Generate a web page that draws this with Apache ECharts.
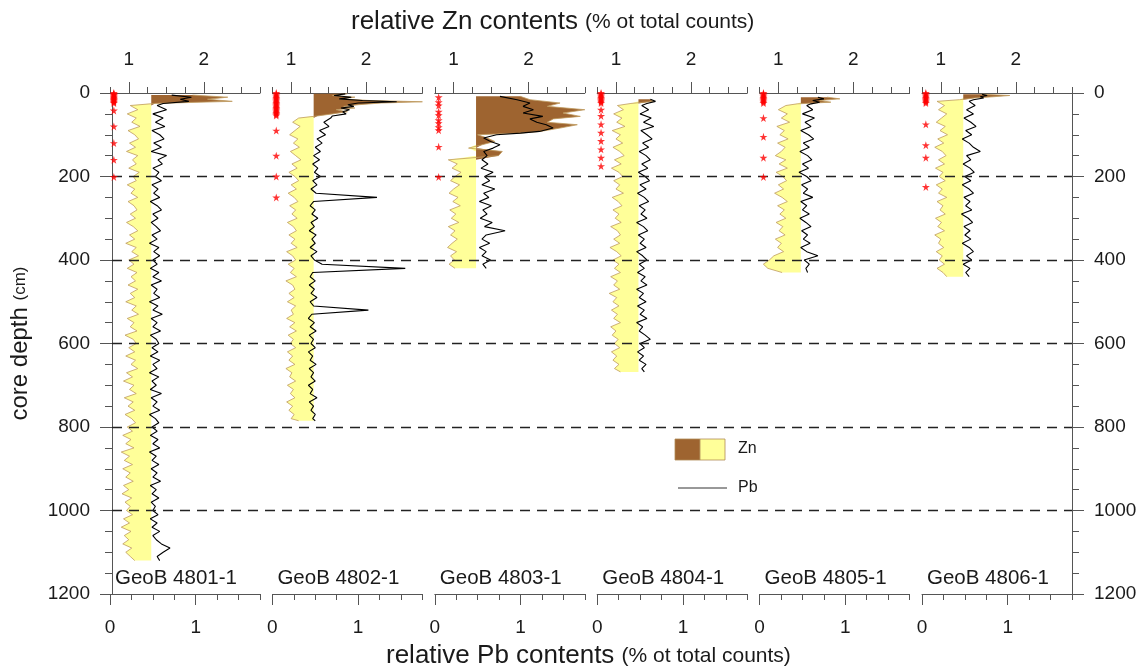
<!DOCTYPE html>
<html>
<head>
    <meta charset="utf-8">
    <title>GeoB cores - relative Zn / Pb contents</title>
    <script src="https://cdn.jsdelivr.net/npm/echarts@6/dist/echarts.min.js"></script>
    <style>html, body { margin: 0; padding: 0; background: #fff; }</style>
</head>
<body>
    <div id="main" style="width: 1146px; height: 667px;"></div>
    <script type="text/javascript">
        var FONT = 'Liberation Sans, Arial, sans-serif';

        // core names (one panel each)
        var coreNames = ['GeoB 4801-1', 'GeoB 4802-1', 'GeoB 4803-1', 'GeoB 4804-1', 'GeoB 4805-1', 'GeoB 4806-1'];

        // tick labels
        var depthTicks = [0, 200, 400, 600, 800, 1000, 1200];
        var znLabels = [1, 2];
        var pbLabels = [0, 1];
        var dashedDepths = [200, 400, 600, 800, 1000];

        // Zn level that splits brown (above) from yellow (below)
        var znBase = 1.3;

        // GeoB 4801-1
        var depth1 = [5, 10, 15, 20, 25, 30, 40, 50, 60, 70, 80, 90, 100, 110, 120, 130, 140, 150, 160, 170, 180, 190, 200,
            210, 220, 230, 240, 250, 260, 270, 280, 290, 300, 310, 320, 330, 340, 350, 360, 370, 380, 390, 400,
            410, 420, 430, 440, 450, 460, 470, 480, 490, 500, 510, 520, 530, 540, 550, 560, 570, 580, 590, 600,
            610, 620, 630, 640, 650, 660, 670, 680, 690, 700, 710, 720, 730, 740, 750, 760, 770, 780, 790, 800,
            810, 820, 830, 840, 850, 860, 870, 880, 890, 900, 910, 920, 930, 940, 950, 960, 970, 980, 990, 1000,
            1010, 1020, 1030, 1040, 1050, 1060, 1070, 1080, 1090, 1100, 1110, 1120];
        var zn1 = [1.85, 2.32, 2.05, 2.38, 1.35, 1.02, 1.12, 0.98, 1.10, 1.04, 1.15, 0.99, 1.08, 1.13, 1.01, 1.09, 0.97, 1.12, 1.05, 1.10, 1.00, 1.14, 1.06,
            1.10, 0.98, 1.08, 1.03, 1.12, 0.99, 1.07, 1.11, 1.02, 1.09, 0.97, 1.06, 1.12, 1.01, 1.08, 0.96, 1.10, 1.04, 1.13, 1.00,
            1.07, 0.98, 1.11, 1.03, 1.09, 0.99, 1.12, 1.02, 1.08, 0.96, 1.10, 1.04, 1.13, 0.98, 1.07, 1.02, 1.11, 0.95, 1.06, 1.10,
            1.00, 1.08, 0.96, 1.09, 1.03, 1.12, 0.97, 1.05, 0.93, 1.07, 1.01, 1.10, 0.94, 1.06, 0.99, 1.08, 0.95, 1.04, 1.09, 0.98,
            1.05, 0.92, 1.03, 0.96, 1.07, 0.90, 1.01, 0.94, 1.05, 0.92, 1.02, 0.96, 1.06, 0.93, 1.00, 0.91, 1.04, 0.95, 1.02, 0.97,
            1.05, 0.93, 1.01, 0.90, 1.03, 0.94, 1.00, 0.92, 1.04, 0.96, 1.02, 1.08];
        var pb1 = [0.72, 0.95, 0.82, 0.92, 0.62, 0.55, 0.66, 0.50, 0.62, 0.53, 0.64, 0.49, 0.58, 0.63, 0.51, 0.60, 0.48, 0.66, 0.56, 0.61, 0.50, 0.57, 0.53,
            0.60, 0.49, 0.56, 0.51, 0.58, 0.47, 0.55, 0.60, 0.50, 0.56, 0.48, 0.54, 0.59, 0.49, 0.55, 0.46, 0.57, 0.51, 0.58, 0.50,
            0.55, 0.47, 0.57, 0.50, 0.60, 0.48, 0.55, 0.51, 0.58, 0.46, 0.56, 0.50, 0.61, 0.48, 0.55, 0.50, 0.59, 0.47, 0.54, 0.57,
            0.49, 0.56, 0.47, 0.58, 0.50, 0.55, 0.46, 0.57, 0.49, 0.54, 0.47, 0.60, 0.48, 0.55, 0.50, 0.58, 0.46, 0.53, 0.57, 0.49,
            0.55, 0.47, 0.56, 0.50, 0.58, 0.46, 0.54, 0.49, 0.57, 0.48, 0.55, 0.50, 0.59, 0.47, 0.54, 0.49, 0.57, 0.48, 0.53, 0.50,
            0.56, 0.47, 0.55, 0.49, 0.58, 0.50, 0.54, 0.60, 0.70, 0.62, 0.55, 0.58];
        var star1 = [0, 2, 4, 6, 8, 10, 12, 14, 16, 18, 20, 22, 24, 42, 80, 120, 160, 201];

        // GeoB 4802-1
        var depth2 = [2, 6, 10, 14, 18, 21, 24, 28, 32, 36, 40, 45, 50, 55,
            60, 70, 80, 90, 100, 110, 120, 130, 140, 150, 160, 170, 180, 190, 200,
            210, 220, 230, 240, 250, 260, 270, 280, 290, 300, 310, 320, 330, 340, 350, 360, 370, 380, 390, 400,
            410, 420, 430, 440, 450, 460, 470, 480, 490, 500, 510, 520, 530, 540, 550, 560, 570, 580, 590, 600,
            610, 620, 630, 640, 650, 660, 670, 680, 690, 700, 710, 720, 730, 740, 750, 760, 770, 780, 785];
        var zn2 = [1.75, 1.55, 1.85, 1.65, 2.05, 2.75, 2.20, 1.90, 1.70, 1.85, 1.60, 1.75, 1.55, 1.35,
            1.10, 1.02, 1.12, 1.05, 0.98, 1.09, 1.03, 1.11, 0.99, 1.06, 1.13, 1.01, 1.08, 0.97, 1.05,
            1.10, 1.00, 1.07, 0.96, 1.04, 1.09, 0.98, 1.06, 1.01, 1.08, 0.95, 1.03, 1.07, 0.97, 1.05, 1.00, 1.08, 0.94, 1.02, 1.06,
            0.96, 1.04, 0.99, 1.07, 0.93, 1.02, 1.05, 0.97, 1.04, 0.95, 1.06, 1.00, 1.03, 0.94, 1.05, 0.98, 1.07, 0.96, 1.03, 0.99,
            1.06, 0.95, 1.02, 0.97, 1.05, 0.93, 1.01, 0.98, 1.06, 0.95, 1.03, 0.99, 1.05, 0.94, 1.02, 0.97, 1.04, 1.00, 1.10];
        var pb2 = [0.85, 0.72, 0.92, 0.78, 1.05, 1.45, 1.00, 0.88, 0.95, 0.80, 0.90, 0.82, 0.86, 0.70,
            0.68, 0.60, 0.66, 0.55, 0.62, 0.52, 0.58, 0.50, 0.56, 0.48, 0.55, 0.47, 0.53, 0.49, 0.56,
            0.47, 0.52, 0.45, 0.51, 1.22, 0.48, 0.44, 0.50, 0.46, 0.53, 0.45, 0.49, 0.43, 0.51, 0.46, 0.50, 0.44, 0.52, 0.45, 0.49,
            0.58, 1.55, 0.47, 0.44, 0.50, 0.43, 0.49, 0.45, 0.52, 0.44, 0.48, 1.12, 0.46, 0.42, 0.49, 0.44, 0.51, 0.43, 0.48, 0.45,
            0.50, 0.42, 0.47, 0.44, 0.51, 0.43, 0.48, 0.45, 0.50, 0.42, 0.47, 0.44, 0.52, 0.43, 0.48, 0.45, 0.50, 0.47, 0.50];
        var star2 = [0, 3, 6, 9, 12, 15, 18, 21, 24, 27, 30, 33, 36, 39, 42, 45, 48, 51, 54, 90, 150, 200, 250];

        // GeoB 4803-1
        var depth3 = [8, 16, 24, 32, 40, 48, 56, 62, 70, 76, 84, 92, 96, 100, 108, 116, 124, 132, 140, 150, 160,
            170, 180, 190, 200, 210, 220, 230, 240, 250, 260, 270, 280, 290, 300, 310, 320, 330, 340, 350, 360,
            370, 380, 390, 400, 410, 420];
        var zn3 = [1.89, 2.02, 2.42, 2.25, 2.75, 2.46, 2.69, 2.33, 2.25, 2.65, 2.42, 2.16, 1.89, 1.32, 1.45, 1.55, 1.38, 1.20, 1.65, 1.60, 0.93,
            1.05, 0.98, 1.10, 1.02, 0.96, 1.08, 1.00, 0.94, 1.06, 0.99, 1.09, 0.95, 1.03, 0.97, 1.07, 0.93, 1.02, 0.96, 1.05, 0.98,
            0.92, 1.04, 0.96, 1.01, 0.94, 1.02];
        var pb3 = [0.76, 0.96, 1.11, 1.03, 1.15, 1.03, 1.26, 1.11, 1.19, 1.30, 1.38, 1.22, 1.00, 0.72, 0.57, 0.65, 0.76, 0.68, 0.57, 0.61, 0.55,
            0.62, 0.54, 0.68, 0.58, 0.64, 0.55, 0.70, 0.57, 0.63, 0.52, 0.66, 0.56, 0.61, 0.53, 0.67, 0.58, 0.82, 0.60, 0.55, 0.64,
            0.52, 0.60, 0.55, 0.65, 0.56, 0.60];
        var star3 = [10, 22, 30, 45, 53, 65, 72, 82, 89, 129, 201];

        // GeoB 4804-1
        var depth4 = [15, 20, 25, 30, 40, 50, 60, 70, 80, 90, 100, 110, 120, 130, 140, 150, 160, 170, 180, 190, 200,
            210, 220, 230, 240, 250, 260, 270, 280, 290, 300, 310, 320, 330, 340, 350, 360, 370, 380, 390, 400,
            410, 420, 430, 440, 450, 460, 470, 480, 490, 500, 510, 520, 530, 540, 550, 560, 570, 580, 590, 600,
            610, 620, 630, 640, 650, 660, 668];
        var zn4 = [1.45, 1.50, 1.20, 1.02, 1.10, 0.97, 1.08, 1.01, 1.12, 0.95, 1.06, 1.00, 1.09, 0.96, 1.05, 1.11, 0.98, 1.07, 0.94, 1.04, 1.09,
            0.97, 1.05, 1.00, 1.10, 0.95, 1.03, 1.08, 0.96, 1.04, 0.99, 1.07, 0.93, 1.02, 1.06, 0.97, 1.05, 0.92, 1.01, 1.07, 0.96,
            1.04, 0.98, 1.06, 0.93, 1.02, 0.97, 1.05, 0.91, 1.01, 0.96, 1.04, 0.94, 1.02, 0.97, 1.06, 0.93, 1.00, 0.95, 1.03, 0.98,
            1.05, 0.94, 1.01, 0.96, 1.04, 0.98, 1.06];
        var pb4 = [0.62, 0.68, 0.58, 0.52, 0.60, 0.50, 0.63, 0.54, 0.66, 0.51, 0.58, 0.64, 0.53, 0.60, 0.49, 0.57, 0.62, 0.52, 0.59, 0.48, 0.56,
            0.61, 0.50, 0.57, 0.47, 0.55, 0.60, 0.49, 0.56, 0.51, 0.58, 0.46, 0.54, 0.59, 0.48, 0.55, 0.50, 0.57, 0.46, 0.53, 0.58,
            0.49, 0.55, 0.47, 0.56, 0.51, 0.58, 0.46, 0.54, 0.49, 0.57, 0.47, 0.55, 0.50, 0.58, 0.46, 0.53, 0.49, 0.56, 0.62, 0.50,
            0.55, 0.47, 0.54, 0.49, 0.57, 0.52, 0.55];
        var star4 = [0, 3, 6, 9, 12, 15, 18, 21, 24, 40, 55, 75, 95, 115, 135, 155, 175];

        // GeoB 4805-1
        var depth5 = [10, 14, 18, 22, 26, 30, 40, 50, 60, 70, 80, 90, 100, 110, 120, 130, 140, 150, 160, 170, 180, 190, 200,
            210, 220, 230, 240, 250, 260, 270, 280, 290, 300, 310, 320, 330, 340, 350, 360, 370, 380, 390, 400,
            410, 420, 430];
        var zn5 = [1.65, 1.82, 1.55, 1.70, 1.25, 1.10, 1.00, 1.12, 1.04, 1.15, 0.98, 1.08, 1.02, 1.13, 0.99, 1.09, 1.04, 0.96, 1.10, 1.01, 1.12, 0.97, 1.06,
            1.11, 1.00, 1.07, 0.95, 1.05, 1.12, 0.99, 1.08, 1.02, 1.10, 0.97, 1.06, 1.01, 1.09, 0.96, 1.04, 0.99, 1.07, 0.94, 0.88,
            0.80, 0.86, 1.05];
        var pb5 = [0.68, 0.75, 0.62, 0.70, 0.60, 0.55, 0.62, 0.50, 0.64, 0.53, 0.60, 0.48, 0.57, 0.63, 0.51, 0.58, 0.47, 0.56, 0.61, 0.50, 0.57, 0.46, 0.55,
            0.60, 0.49, 0.56, 0.51, 0.62, 0.48, 0.55, 0.50, 0.58, 0.47, 0.54, 0.60, 0.49, 0.56, 0.51, 0.59, 0.48, 0.55, 0.68, 0.52,
            0.58, 0.54, 0.56];
        var star5 = [0, 3, 6, 9, 12, 15, 18, 21, 24, 60, 105, 155, 201];

        // GeoB 4806-1
        var depth6 = [3, 6, 9, 12, 16, 20, 30, 40, 50, 60, 70, 80, 90, 100, 110, 120, 130, 140, 150, 160, 170, 180, 190, 200,
            210, 220, 230, 240, 250, 260, 270, 280, 290, 300, 310, 320, 330, 340, 350, 360, 370, 380, 390, 400,
            410, 420, 430, 440];
        var zn6 = [1.55, 1.92, 1.70, 1.45, 1.25, 0.95, 1.05, 0.97, 1.08, 1.01, 0.94, 1.06, 0.99, 1.09, 0.96, 1.04, 0.92, 1.02, 1.07, 0.97, 1.05, 0.93, 1.03, 0.98,
            1.06, 0.94, 1.02, 0.97, 1.08, 0.95, 1.03, 0.99, 1.06, 0.93, 1.01, 0.96, 1.05, 0.92, 1.00, 0.97, 1.04, 0.94, 1.02, 0.98,
            1.05, 0.95, 1.03, 1.08];
        var pb6 = [0.70, 0.76, 0.68, 0.72, 0.60, 0.55, 0.62, 0.52, 0.60, 0.49, 0.57, 0.63, 0.51, 0.58, 0.47, 0.55, 0.60, 0.68, 0.52, 0.57, 0.48, 0.56, 0.61, 0.50,
            0.57, 0.47, 0.55, 0.60, 0.49, 0.56, 0.51, 0.58, 0.46, 0.54, 0.59, 0.49, 0.56, 0.50, 0.57, 0.47, 0.55, 0.60, 0.52, 0.58,
            0.48, 0.56, 0.51, 0.55];
        var star6 = [0, 3, 6, 9, 12, 15, 18, 21, 24, 75, 125, 155, 225];

        var cores = [
            {depth: depth1, zn: zn1, pb: pb1, stars: star1},
            {depth: depth2, zn: zn2, pb: pb2, stars: star2},
            {depth: depth3, zn: zn3, pb: pb3, stars: star3},
            {depth: depth4, zn: zn4, pb: pb4, stars: star4},
            {depth: depth5, zn: zn5, pb: pb5, stars: star5},
            {depth: depth6, zn: zn6, pb: pb6, stars: star6}
        ];

        // layout
        var panelLeft = [110, 272.4, 434.8, 597.2, 759.6, 922];
        var panelWidth = 150, gridTop = 93, gridBottom = 73;
        var axisColor = '#555', textColor = '#1a1a1a';
        var brown = '#9e6430', yellow = '#ffff99', znEdge = '#bf9a5e';
        var starPath = 'path://M50,0 L61,35 L98,35 L68,57 L79,91 L50,70 L21,91 L32,57 L2,35 L39,35 Z';

        var myChart = echarts.init(document.getElementById('main'));

        function onlyLabels(list) {
            return function (v) { return list.indexOf(Math.round(v * 100) / 100) >= 0 ? String(v) : ''; };
        }

        // Zn fill: brown right of znBase, yellow left of it
        function znRenderer(c) {
            return function (params, api) {
                var n = c.depth.length;
                var top = api.coord([znBase, c.depth[0]]);
                var bottom = api.coord([znBase, c.depth[n - 1]]);
                var hi = [top], lo = [top], edge = [];
                for (var k = 0; k < n; k++) {
                    hi.push(api.coord([Math.max(c.zn[k], znBase), c.depth[k]]));
                    lo.push(api.coord([Math.min(c.zn[k], znBase), c.depth[k]]));
                    edge.push(api.coord([c.zn[k], c.depth[k]]));
                }
                hi.push(bottom);
                lo.push(bottom);
                return {
                    type: 'group',
                    children: [
                        {type: 'polygon', shape: {points: lo}, style: {fill: yellow}},
                        {type: 'polygon', shape: {points: hi}, style: {fill: brown}},
                        {type: 'polyline', shape: {points: edge}, style: {stroke: znEdge, lineWidth: 0.8, fill: null}}
                    ]
                };
            };
        }

        var grids = [], xAxes = [], yAxes = [], series = [], graphics = [];

        cores.forEach(function (c, i) {
            grids.push({left: panelLeft[i], width: panelWidth, top: gridTop, bottom: gridBottom});
            var xi = xAxes.length;
            // Zn axis (top)
            xAxes.push({
                gridIndex: i, type: 'value', position: 'top', min: 0.75, max: 2.75, interval: 0.25,
                axisLine: {show: true, lineStyle: {color: axisColor}},
                axisTick: {show: true, length: 6, lineStyle: {color: axisColor}},
                axisLabel: {fontSize: 19, color: textColor, fontFamily: FONT, margin: 24, formatter: onlyLabels(znLabels)},
                splitLine: {show: false}
            });
            // longer ticks at labelled Zn values
            xAxes.push({
                gridIndex: i, type: 'value', position: 'top', min: 0.75, max: 2.75,
                axisLine: {show: false},
                axisTick: {show: true, length: 11, customValues: znLabels, lineStyle: {color: axisColor}},
                axisLabel: {show: false},
                splitLine: {show: false}
            });
            // Pb axis (bottom)
            xAxes.push({
                gridIndex: i, type: 'value', position: 'bottom', min: 0, max: 1.75, interval: 0.25,
                axisLine: {show: true, lineStyle: {color: axisColor}},
                axisTick: {show: true, length: 6, lineStyle: {color: axisColor}},
                axisLabel: {fontSize: 19, color: textColor, fontFamily: FONT, margin: 24, formatter: onlyLabels(pbLabels)},
                splitLine: {show: false}
            });
            xAxes.push({
                gridIndex: i, type: 'value', position: 'bottom', min: 0, max: 1.75,
                axisLine: {show: false},
                axisTick: {show: true, length: 11, customValues: pbLabels, lineStyle: {color: axisColor}},
                axisLabel: {show: false},
                splitLine: {show: false}
            });
            yAxes.push({gridIndex: i, type: 'value', min: 0, max: 1200, inverse: true, show: false});

            series.push({
                type: 'custom', xAxisIndex: xi, yAxisIndex: i, z: 3, silent: true,
                data: [0], renderItem: znRenderer(c)
            });
            series.push({
                type: 'line', xAxisIndex: xi + 2, yAxisIndex: i, z: 4, silent: true,
                showSymbol: false, symbol: 'none',
                lineStyle: {color: '#000', width: 1.1},
                data: c.depth.map(function (d, k) { return [c.pb[k], d]; })
            });
            series.push({
                type: 'scatter', xAxisIndex: xi + 2, yAxisIndex: i, z: 5, silent: true,
                symbol: starPath, symbolSize: 8,
                itemStyle: {color: '#ff0000'},
                data: c.stars.map(function (d) { return [0.045, d]; })
            });

            graphics.push({
                type: 'text', left: panelLeft[i] + 5, top: 568,
                style: {text: coreNames[i], fontSize: 20.5, fill: textColor, fontFamily: FONT}
            });
        });

        // full-width grid: depth axes on both sides + dashed depth lines
        var bg = grids.length;
        grids.push({left: 110, right: 74, top: gridTop, bottom: gridBottom});
        xAxes.push({gridIndex: bg, type: 'value', min: 0, max: 1, show: false});
        var depthAxis = function (pos) {
            return {
                gridIndex: bg, type: 'value', position: pos,
                min: depthTicks[0], max: depthTicks[depthTicks.length - 1], interval: depthTicks[1] - depthTicks[0],
                inverse: true,
                axisLine: {show: true, lineStyle: {color: axisColor}},
                axisTick: {show: true, length: 12, lineStyle: {color: axisColor}},
                minorTick: {show: true, splitNumber: 4, length: 7, lineStyle: {color: axisColor}},
                axisLabel: {fontSize: 19, color: textColor, fontFamily: FONT, margin: 22,
                    formatter: function (v) { return String(v); }},
                splitLine: {show: false}
            };
        };
        var leftAxis = depthAxis('left');
        leftAxis.name = '{a|core depth }{b|(cm)}';
        leftAxis.nameLocation = 'middle';
        leftAxis.nameGap = 80;
        leftAxis.nameRotate = 90;
        leftAxis.nameTextStyle = {
            rich: {
                a: {fontSize: 24, color: textColor, fontFamily: FONT},
                b: {fontSize: 17, color: textColor, fontFamily: FONT}
            }
        };
        yAxes.push(leftAxis);
        yAxes.push(depthAxis('right'));

        series.push({
            type: 'line', xAxisIndex: xAxes.length - 1, yAxisIndex: yAxes.length - 2, z: 1, silent: true,
            showSymbol: false, lineStyle: {opacity: 0},
            data: [[0, 0]],
            markLine: {
                silent: true, symbol: 'none', label: {show: false},
                lineStyle: {color: '#222', width: 1.3, type: [10, 7]},
                data: dashedDepths.map(function (d) { return {yAxis: d}; })
            }
        });

        // legend drawn by hand, as in the figure
        graphics.push(
            {type: 'rect', shape: {x: 675, y: 439, width: 25, height: 21}, style: {fill: brown, stroke: '#b08a55', lineWidth: 0.8}},
            {type: 'rect', shape: {x: 700, y: 439, width: 25, height: 21}, style: {fill: yellow, stroke: '#b08a55', lineWidth: 0.8}},
            {type: 'text', left: 738, top: 441, style: {text: 'Zn', fontSize: 16, fill: textColor, fontFamily: FONT}},
            {type: 'line', shape: {x1: 678, y1: 488, x2: 727, y2: 488}, style: {stroke: '#333', lineWidth: 1}},
            {type: 'text', left: 738, top: 480, style: {text: 'Pb', fontSize: 16, fill: textColor, fontFamily: FONT}}
        );

        var titleRich = {
            a: {fontSize: 26, fontWeight: 'normal', color: textColor, fontFamily: FONT},
            b: {fontSize: 21, fontWeight: 'normal', color: textColor, fontFamily: FONT}
        };

        var option = {
            animation: false,
            title: [
                {text: '{a|relative Zn contents }{b|(% ot total counts)}', left: 346, top: 4,
                    textStyle: {fontWeight: 'normal', rich: titleRich}},
                {text: '{a|relative Pb contents }{b|(% ot total counts)}', left: 381, top: 638,
                    textStyle: {fontWeight: 'normal', rich: titleRich}}
            ],
            grid: grids,
            xAxis: xAxes,
            yAxis: yAxes,
            series: series,
            graphic: graphics
        };

        myChart.setOption(option);
    </script>
</body>
</html>
